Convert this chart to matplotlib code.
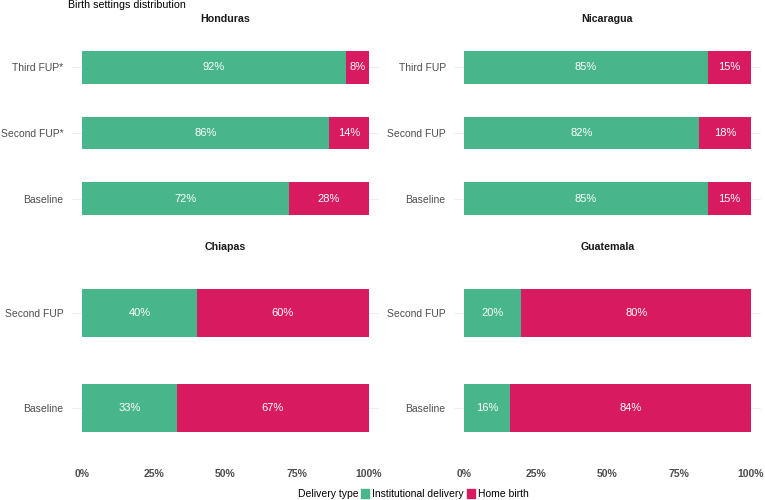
import matplotlib.pyplot as plt
from matplotlib.patches import Patch
import numpy as np

plt.rcParams['font.family'] = ['Liberation Sans', 'DejaVu Sans']
plt.rcParams['font.size'] = 7.5

# data
regions = ['Honduras', 'Nicaragua', 'Chiapas', 'Guatemala']
honduras_cats = ['Third FUP*', 'Second FUP*', 'Baseline']
honduras_inst = [92, 86, 72]
honduras_home = [8, 14, 28]
nicaragua_cats = ['Third FUP', 'Second FUP', 'Baseline']
nicaragua_inst = [85, 82, 85]
nicaragua_home = [15, 18, 15]
chiapas_cats = ['Second FUP', 'Baseline']
chiapas_inst = [40, 33]
chiapas_home = [60, 67]
guatemala_cats = ['Second FUP', 'Baseline']
guatemala_inst = [20, 16]
guatemala_home = [80, 84]
x_ticks = [0, 25, 50, 75, 100]
x_ticklabels = ['0%', '25%', '50%', '75%', '100%']

GREEN = '#48B68A'
PINK = '#D81B60'
GREY = '#4D4D4D'

W, H = 765, 500
fig = plt.figure(figsize=(W / 100, H / 100), dpi=100)


def px_axes(x0, y0, x1, y1):
    return fig.add_axes([x0 / W, 1 - y1 / H, (x1 - x0) / W, (y1 - y0) / H])


panels = [
    (honduras_cats, honduras_inst, honduras_home, (72, 28, 379, 238)),
    (nicaragua_cats, nicaragua_inst, nicaragua_home, (454, 28, 761, 238)),
    (chiapas_cats, chiapas_inst, chiapas_home, (72, 256, 379, 465)),
    (guatemala_cats, guatemala_inst, guatemala_home, (454, 256, 761, 465)),
]

for name, (cats, inst, home, box) in zip(regions, panels):
    ax = px_axes(*box)
    y = np.arange(len(cats))
    for yy in y:
        ax.axhline(yy, color='#EBEBEB', linewidth=0.6, zorder=0)
    ax.barh(y, inst, height=0.5, color=GREEN, zorder=2)
    ax.barh(y, home, left=inst, height=0.5, color=PINK, zorder=2)
    for yy, a, b in zip(y, inst, home):
        ax.text(a / 2, yy, f'{a}%', color='white', ha='center', va='center', fontsize=8, zorder=3)
        ax.text(a + b / 2, yy, f'{b}%', color='white', ha='center', va='center', fontsize=8, zorder=3)
    ax.set_xlim(-3.5, 103.5)
    ax.set_ylim(len(cats) - 0.4, -0.6)
    ax.set_yticks(y)
    ax.set_yticklabels(cats, color=GREY, fontsize=7.5)
    ax.set_xticks(x_ticks)
    ax.set_xticklabels(x_ticklabels, color=GREY, fontsize=7.5, fontweight='bold')
    ax.tick_params(length=0, axis='y', pad=6)
    ax.tick_params(length=0, axis='x', pad=3)
    for s in ax.spines.values():
        s.set_visible(False)
    ax.set_title(name, fontsize=7.7, fontweight='bold', color='#1A1A1A', pad=4)
    # only the bottom row shows x tick labels
    if box[1] < 100:
        ax.set_xticklabels([])

fig.text(68 / W, 1 - 5 / H, 'Birth settings distribution', fontsize=7.7, ha='left', va='center')

fig.text(298 / W, 1 - 494 / H, 'Delivery type', fontsize=7.5, ha='left', va='center')
fig.legend(handles=[Patch(color=GREEN), Patch(color=PINK)],
           labels=['Institutional delivery', 'Home birth'],
           loc='center left', bbox_to_anchor=(361 / W, 1 - 494 / H), ncol=2,
           frameon=False, handlelength=0.75, handleheight=0.85,
           handletextpad=0.3, columnspacing=0.35, borderaxespad=0, borderpad=0,
           fontsize=7.5)

fig.savefig('out.png', dpi=100)
